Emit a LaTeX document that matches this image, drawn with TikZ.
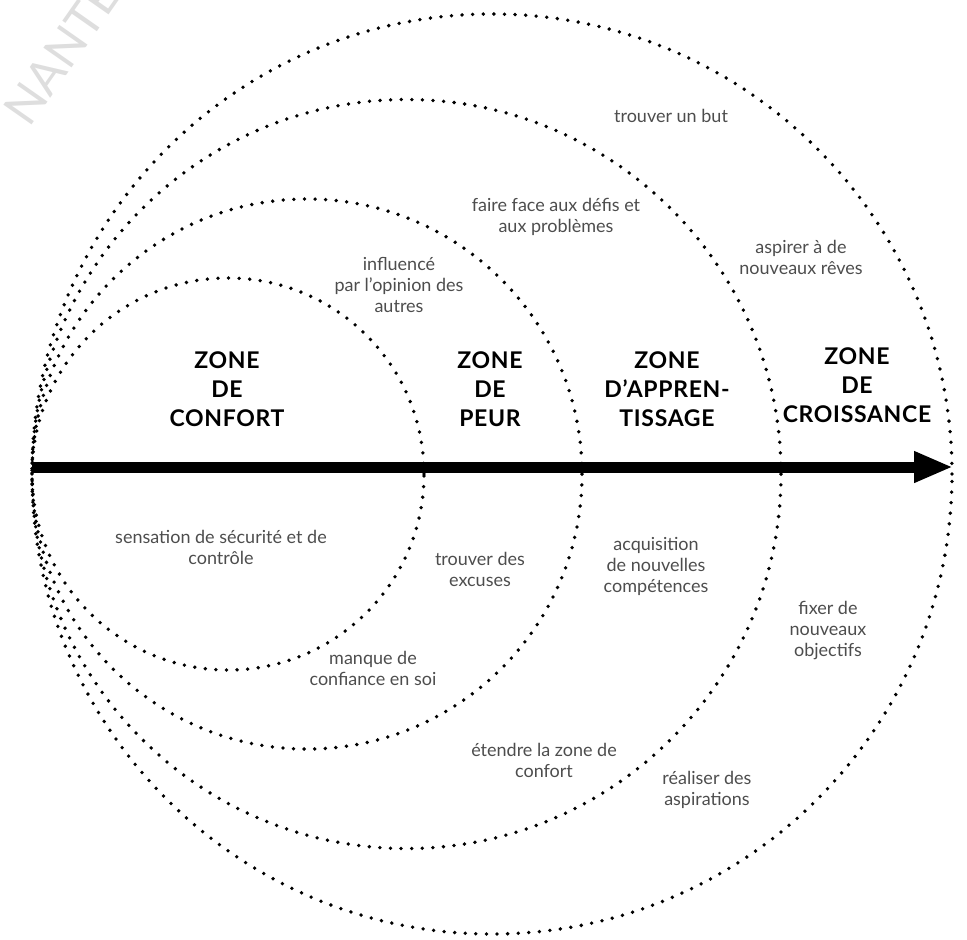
\documentclass[tikz,border=0pt]{standalone}
\usepackage{fontspec}
\setmainfont{Lato}
\newfontfamily\zonefont[LetterSpace=3]{Lato}
\usetikzlibrary{arrows.meta}
\definecolor{notegray}{HTML}{4D4D4D}
\definecolor{markgray}{HTML}{DEDEDE}

\begin{document}
\begin{tikzpicture}[x=0.5pt, y=-0.5pt,
  ring/.style={line width=1.9pt, line cap=round, dash pattern=on 0pt off 5.3pt},
  zone/.style={align=center, font=\zonefont\bfseries\fontsize{11.5}{14.5}\selectfont, inner sep=0pt},
  note/.style={align=center, text=notegray, font=\fontsize{9}{10.5}\selectfont, inner sep=0pt},
  axis/.style={line width=5.5pt, -{Triangle[length=19.5pt, width=14.5pt]}}
]
  \clip (0,0) rectangle (967,939);

  % watermark
  \node[text=markgray, font=\fontsize{24}{24}\selectfont, rotate=55, inner sep=0pt] (mark) at (62,52) {NANTE};

  % circles
  \coordinate (c1) at (228,474);
  \coordinate (c2) at (307,474);
  \coordinate (c3) at (406.5,474);
  \coordinate (c4) at (492,474);
  \draw[ring] (c1) circle[radius=98pt];
  \draw[ring] (c2) circle[radius=137.5pt];
  \draw[ring] (c3) circle[radius=187.25pt];
  \draw[ring] (c4) circle[radius=230pt];

  % axis
  \coordinate (start) at (32,467);
  \coordinate (tip) at (953,467);
  \draw[axis] (start) -- (tip);

  % zones
  \node[zone] (confort) at (227,389) {ZONE\\DE\\CONFORT};
  \node[zone] (peur) at (490,389) {ZONE\\DE\\PEUR};
  \node[zone] (apprent) at (667,389) {ZONE\\D’APPREN-\\TISSAGE};
  \node[zone] (croiss) at (857,385) {ZONE\\DE\\CROISSANCE};

  % notes above
  \node[note] (but) at (671,116) {trouver un but};
  \node[note] (defis) at (556,217) {faire face aux défis et\\aux problèmes};
  \node[note] (reves) at (801,257) {aspirer à de\\nouveaux rêves};
  \node[note] (opinion) at (399,285) {influencé\\par l’opinion des\\autres};

  % notes below
  \node[note] (securite) at (221,547) {sensation de sécurité et de\\contrôle};
  \node[note] (excuses) at (480,569) {trouver des\\excuses};
  \node[note] (acquis) at (656,566) {acquisition\\de nouvelles\\compétences};
  \node[note] (objectifs) at (828,630) {fixer de\\nouveaux\\objectifs};
  \node[note] (manque) at (373,668) {manque de\\confiance en soi};
  \node[note] (etendre) at (544,760) {étendre la zone de\\confort};
  \node[note] (aspir) at (707,790) {réaliser des\\aspirations};
\end{tikzpicture}
\end{document}
